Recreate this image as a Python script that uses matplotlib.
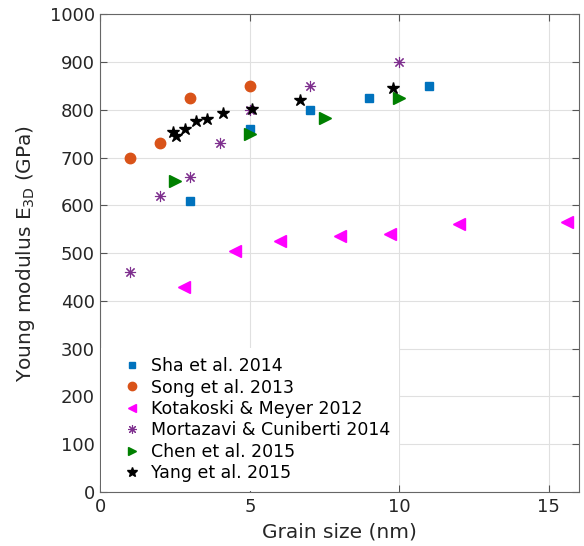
import matplotlib
matplotlib.use("Agg")
import matplotlib.pyplot as plt

# Young's modulus vs grain size for polycrystalline graphene, by study
sha_x = [3, 5, 7, 9, 11]
sha_y = [610, 760, 800, 825, 850]

song_x = [1, 2, 3, 5]
song_y = [700, 730, 825, 850]

kota_x = [2.8, 4.5, 6, 8, 9.7, 12, 15.6]
kota_y = [430, 505, 525, 535, 540, 560, 565]

mort_x = [1, 2, 3, 4, 5, 7, 10]
mort_y = [460, 620, 660, 730, 800, 850, 900]

chen_x = [2.5, 5, 7.5, 10]
chen_y = [650, 750, 783, 825]

yang_x = [2.42, 2.52, 2.82, 3.18, 3.55, 4.11, 5.06, 6.69, 9.8]
yang_y = [753, 746, 760, 777, 780, 794, 801, 820, 845]

x_ticks = [0, 5, 10, 15]
y_ticks = list(range(0, 1001, 100))

plt.rcParams['font.family'] = ['DejaVu Sans']
text_col = '#262626'

fig = plt.figure(figsize=(5.84, 5.46), dpi=100)
ax = fig.add_axes([0.172, 0.099, 0.819, 0.875])

ax.plot(sha_x, sha_y, ls='none', marker='s', ms=6, color='#0072BD', mec='#0072BD',
        label='Sha et al. 2014')
ax.plot(song_x, song_y, ls='none', marker='o', ms=7.5, color='#D95319', mec='#D95319',
        label='Song et al. 2013')
ax.plot(kota_x, kota_y, ls='none', marker='<', ms=8, color='#FF00FF', mec='#FF00FF',
        label='Kotakoski & Meyer 2012')
ax.plot(mort_x, mort_y, ls='none', marker=(8, 2, 0), ms=8, color='#7E2F8E', mec='#7E2F8E',
        mew=0.8, label='Mortazavi & Cuniberti 2014')
ax.plot(chen_x, chen_y, ls='none', marker='>', ms=8, color='#008000', mec='#008000',
        label='Chen et al. 2015')
ax.plot(yang_x, yang_y, ls='none', marker='*', ms=9, color='black', mec='black',
        label='Yang et al. 2015')

ax.set_xlim(0, 16)
ax.set_ylim(0, 1000)
ax.set_xticks(x_ticks)
ax.set_yticks(y_ticks)
ax.grid(True, color='#e0e0e0', lw=0.8)
ax.set_axisbelow(True)
ax.tick_params(direction='in', top=True, right=True, length=5, width=0.8,
               colors='#555555', labelcolor=text_col, labelsize=13, pad=4)
for s in ax.spines.values():
    s.set_color('#666666')
    s.set_linewidth(0.8)

ax.set_xlabel('Grain size (nm)', fontsize=14.5, color=text_col, labelpad=5)
ax.set_ylabel(r'Young modulus E$_{\mathregular{3D}}$ (GPa)', fontsize=14.5,
              color=text_col, labelpad=9)

leg = ax.legend(loc='lower left', fontsize=12.5, frameon=True, framealpha=1,
                facecolor='white', edgecolor='none', fancybox=False,
                handlelength=2.5, handletextpad=-0.15, labelspacing=0.2,
                borderpad=0.5, borderaxespad=0.05, markerscale=0.8)
for t in leg.get_texts():
    t.set_color('black')

fig.savefig('out.png', dpi=100)
